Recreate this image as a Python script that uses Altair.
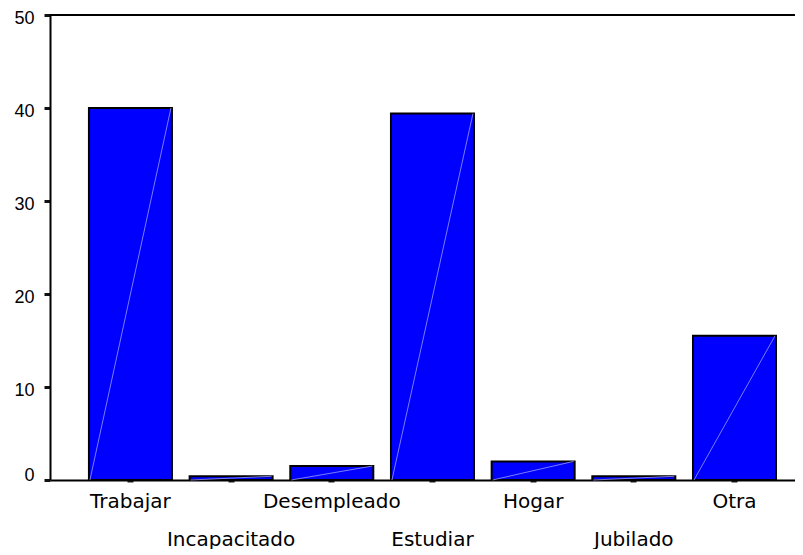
import altair as alt
import pandas as pd

categories = ["Trabajar", "Incapacitado", "Desempleado", "Estudiar", "Hogar", "Jubilado", "Otra"]
values = [40.0, 0.4, 1.5, 39.4, 2.0, 0.4, 15.5]
second_row = ["Incapacitado", "Estudiar", "Jubilado"]
y_ticks = [0, 10, 20, 30, 40, 50]

df = pd.DataFrame({"cat": categories, "val": values, "zero": [0] * len(categories)})

XFONT = "DejaVu Sans"
YFONT = "Liberation Sans"
W, H = 745, 465
BW = 83  # approx bar width in px (for diagonal artefact)

xscale = alt.Scale(domain=categories, paddingInner=0.1755, paddingOuter=0.2878, align=0.672)
yscale = alt.Scale(domain=[0, 50], nice=False, zero=True)

label_expr = "indexof(" + str(second_row).replace("'", "\"") + ", datum.value) >= 0 ? ['', datum.label] : datum.label"

base = alt.Chart(df)

bars = base.mark_bar(color="#0000FF", stroke="#000000", strokeWidth=2).encode(
    x=alt.X("cat:N", scale=xscale, sort=categories, title=None,
            axis=alt.Axis(labelAngle=0, labelFont=XFONT, labelFontSize=20, labelColor="#000000",
                          labelExpr=label_expr, labelLineHeight=38, labelBaseline="alphabetic",
                          labelPadding=25, tickSize=2, tickWidth=6, tickColor="#222222",
                          domainColor="#000000", domainWidth=2, grid=False, labelOverlap=False)),
    y=alt.Y("val:Q", scale=yscale, title=None,
            axis=alt.Axis(values=y_ticks, labelFont=YFONT, labelFontSize=18, labelColor="#000000",
                          labelOffset={"condition": {"test": "datum.value == 0", "value": -5}, "value": 3},
                          labelPadding=10, tickSize=6, tickWidth=3, tickColor="#111111",
                          domainColor="#000000", domainWidth=2, grid=False)),
)

diag = base.mark_rule(color="#9a9aff", strokeWidth=1, opacity=0.8,
                      xOffset=-BW / 2 + 1, x2Offset=BW / 2 - 1).encode(
    x=alt.X("cat:N", scale=xscale, sort=categories),
    x2=alt.X2("cat:N"),
    y=alt.Y("zero:Q", scale=yscale),
    y2=alt.Y2("val:Q"),
)

top_line = alt.Chart(pd.DataFrame({"t": [50]})).mark_rule(color="#000000", strokeWidth=2).encode(
    y=alt.Y("t:Q", scale=yscale)
)

chart = alt.layer(bars, diag, top_line).properties(
    width=W, height=H,
    autosize=alt.AutoSizeParams(type="none"),
    padding={"left": 42, "top": 7, "right": 0, "bottom": 69},
    background="#ffffff",
).configure_view(stroke=None)

chart.save("out.html", embed_options={"renderer": "svg", "actions": False})
